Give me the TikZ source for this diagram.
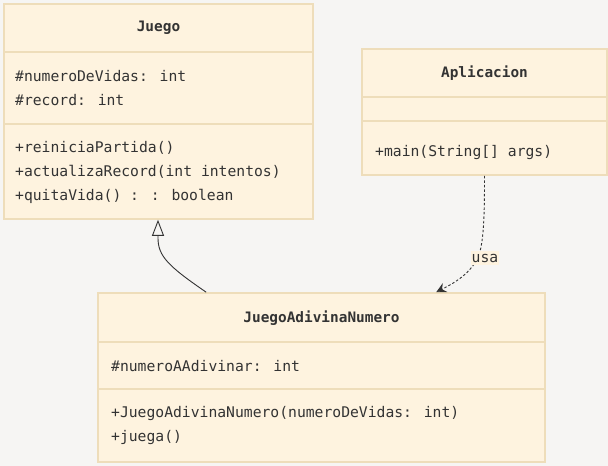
\documentclass[tikz,border=0pt]{standalone}
\usepackage{fontspec}
\setmainfont{DejaVu Sans Mono}
\usetikzlibrary{arrows.meta}
\definecolor{canvas}{HTML}{F6F5F3}
\definecolor{boxfill}{HTML}{FEF3DF}
\definecolor{boxline}{HTML}{EEDDBA}
\definecolor{ink}{HTML}{333333}
\begin{document}
\begin{tikzpicture}[x=1pt,y=-1pt,
  every node/.style={font=\fontsize{14.7}{16}\selectfont, text=ink, inner sep=0pt},
  classbox/.style={draw=boxline, fill=boxfill, line width=1.6pt, rectangle, inner sep=0pt},
  sepline/.style={draw=boxline, line width=1.6pt},
  title/.style={font=\fontsize{14.4}{16}\selectfont\bfseries},
  member/.style={anchor=west},
  inherit/.style={draw=ink, line width=0.9pt, -{Triangle[open, length=16pt, width=12pt, fill=canvas]}},
  depend/.style={draw=ink, line width=0.9pt, dash pattern=on 2.5pt off 2pt, -{Stealth[length=10pt, width=10pt, inset=3.5pt]}},
  tag/.style={fill=boxfill, inner xsep=1pt, inner ysep=3pt}
]
  % canvas
  \fill[canvas] (0,0) rectangle (608,466);
  \useasboundingbox (0,0) rectangle (608,466);

  % class Juego
  \node[classbox, minimum width=309pt, minimum height=215pt] (juego) at (158.5,111.5) {};
  \draw[sepline] (juego.west |- 0,52) -- (juego.east |- 0,52);
  \draw[sepline] (juego.west |- 0,124) -- (juego.east |- 0,124);
  \node[title] (juegoT) at (158.5,28) {Juego};
  \node[member] (juegoA1) at (15,76) {\#numeroDeVidas: int};
  \node[member] (juegoA2) at (15,100) {\#record: int};
  \node[member] (juegoM1) at (15,148) {+reiniciaPartida()};
  \node[member] (juegoM2) at (15,172) {+actualizaRecord(int intentos)};
  \node[member] (juegoM3) at (15,196) {+quitaVida() : : boolean};

  % class Aplicacion
  \node[classbox, minimum width=245pt, minimum height=126pt] (apl) at (484.5,112) {};
  \draw[sepline] (apl.west |- 0,97) -- (apl.east |- 0,97);
  \draw[sepline] (apl.west |- 0,121) -- (apl.east |- 0,121);
  \node[title] (aplT) at (484.5,73) {Aplicacion};
  \node[member] (aplM1) at (375,152) {+main(String[] args)};

  % class JuegoAdivinaNumero
  \node[classbox, minimum width=447pt, minimum height=169pt] (jan) at (321.5,377.5) {};
  \draw[sepline] (jan.west |- 0,342) -- (jan.east |- 0,342);
  \draw[sepline] (jan.west |- 0,389) -- (jan.east |- 0,389);
  \node[title] (janT) at (321.5,318) {JuegoAdivinaNumero};
  \node[member] (janA1) at (111,366) {\#numeroAAdivinar: int};
  \node[member] (janM1) at (111,413) {+JuegoAdivinaNumero(numeroDeVidas: int)};
  \node[member] (janM2) at (111,437) {+juega()};

  % generalization JuegoAdivinaNumero -> Juego
  \draw[inherit] ([xshift=109pt]jan.north west)
    .. controls (168,266) and (158,256) .. (158,238) -- (juego.south -| 158,0);

  % dependency Aplicacion -> JuegoAdivinaNumero
  \draw[depend] (apl.south)
    .. controls (484.5,215) and (484,242) .. (478,258)
    .. controls (468,276) and (452,284) .. ([xshift=339pt]jan.north west);
  \node[tag] (usa) at (485,258) {usa};
\end{tikzpicture}
\end{document}
